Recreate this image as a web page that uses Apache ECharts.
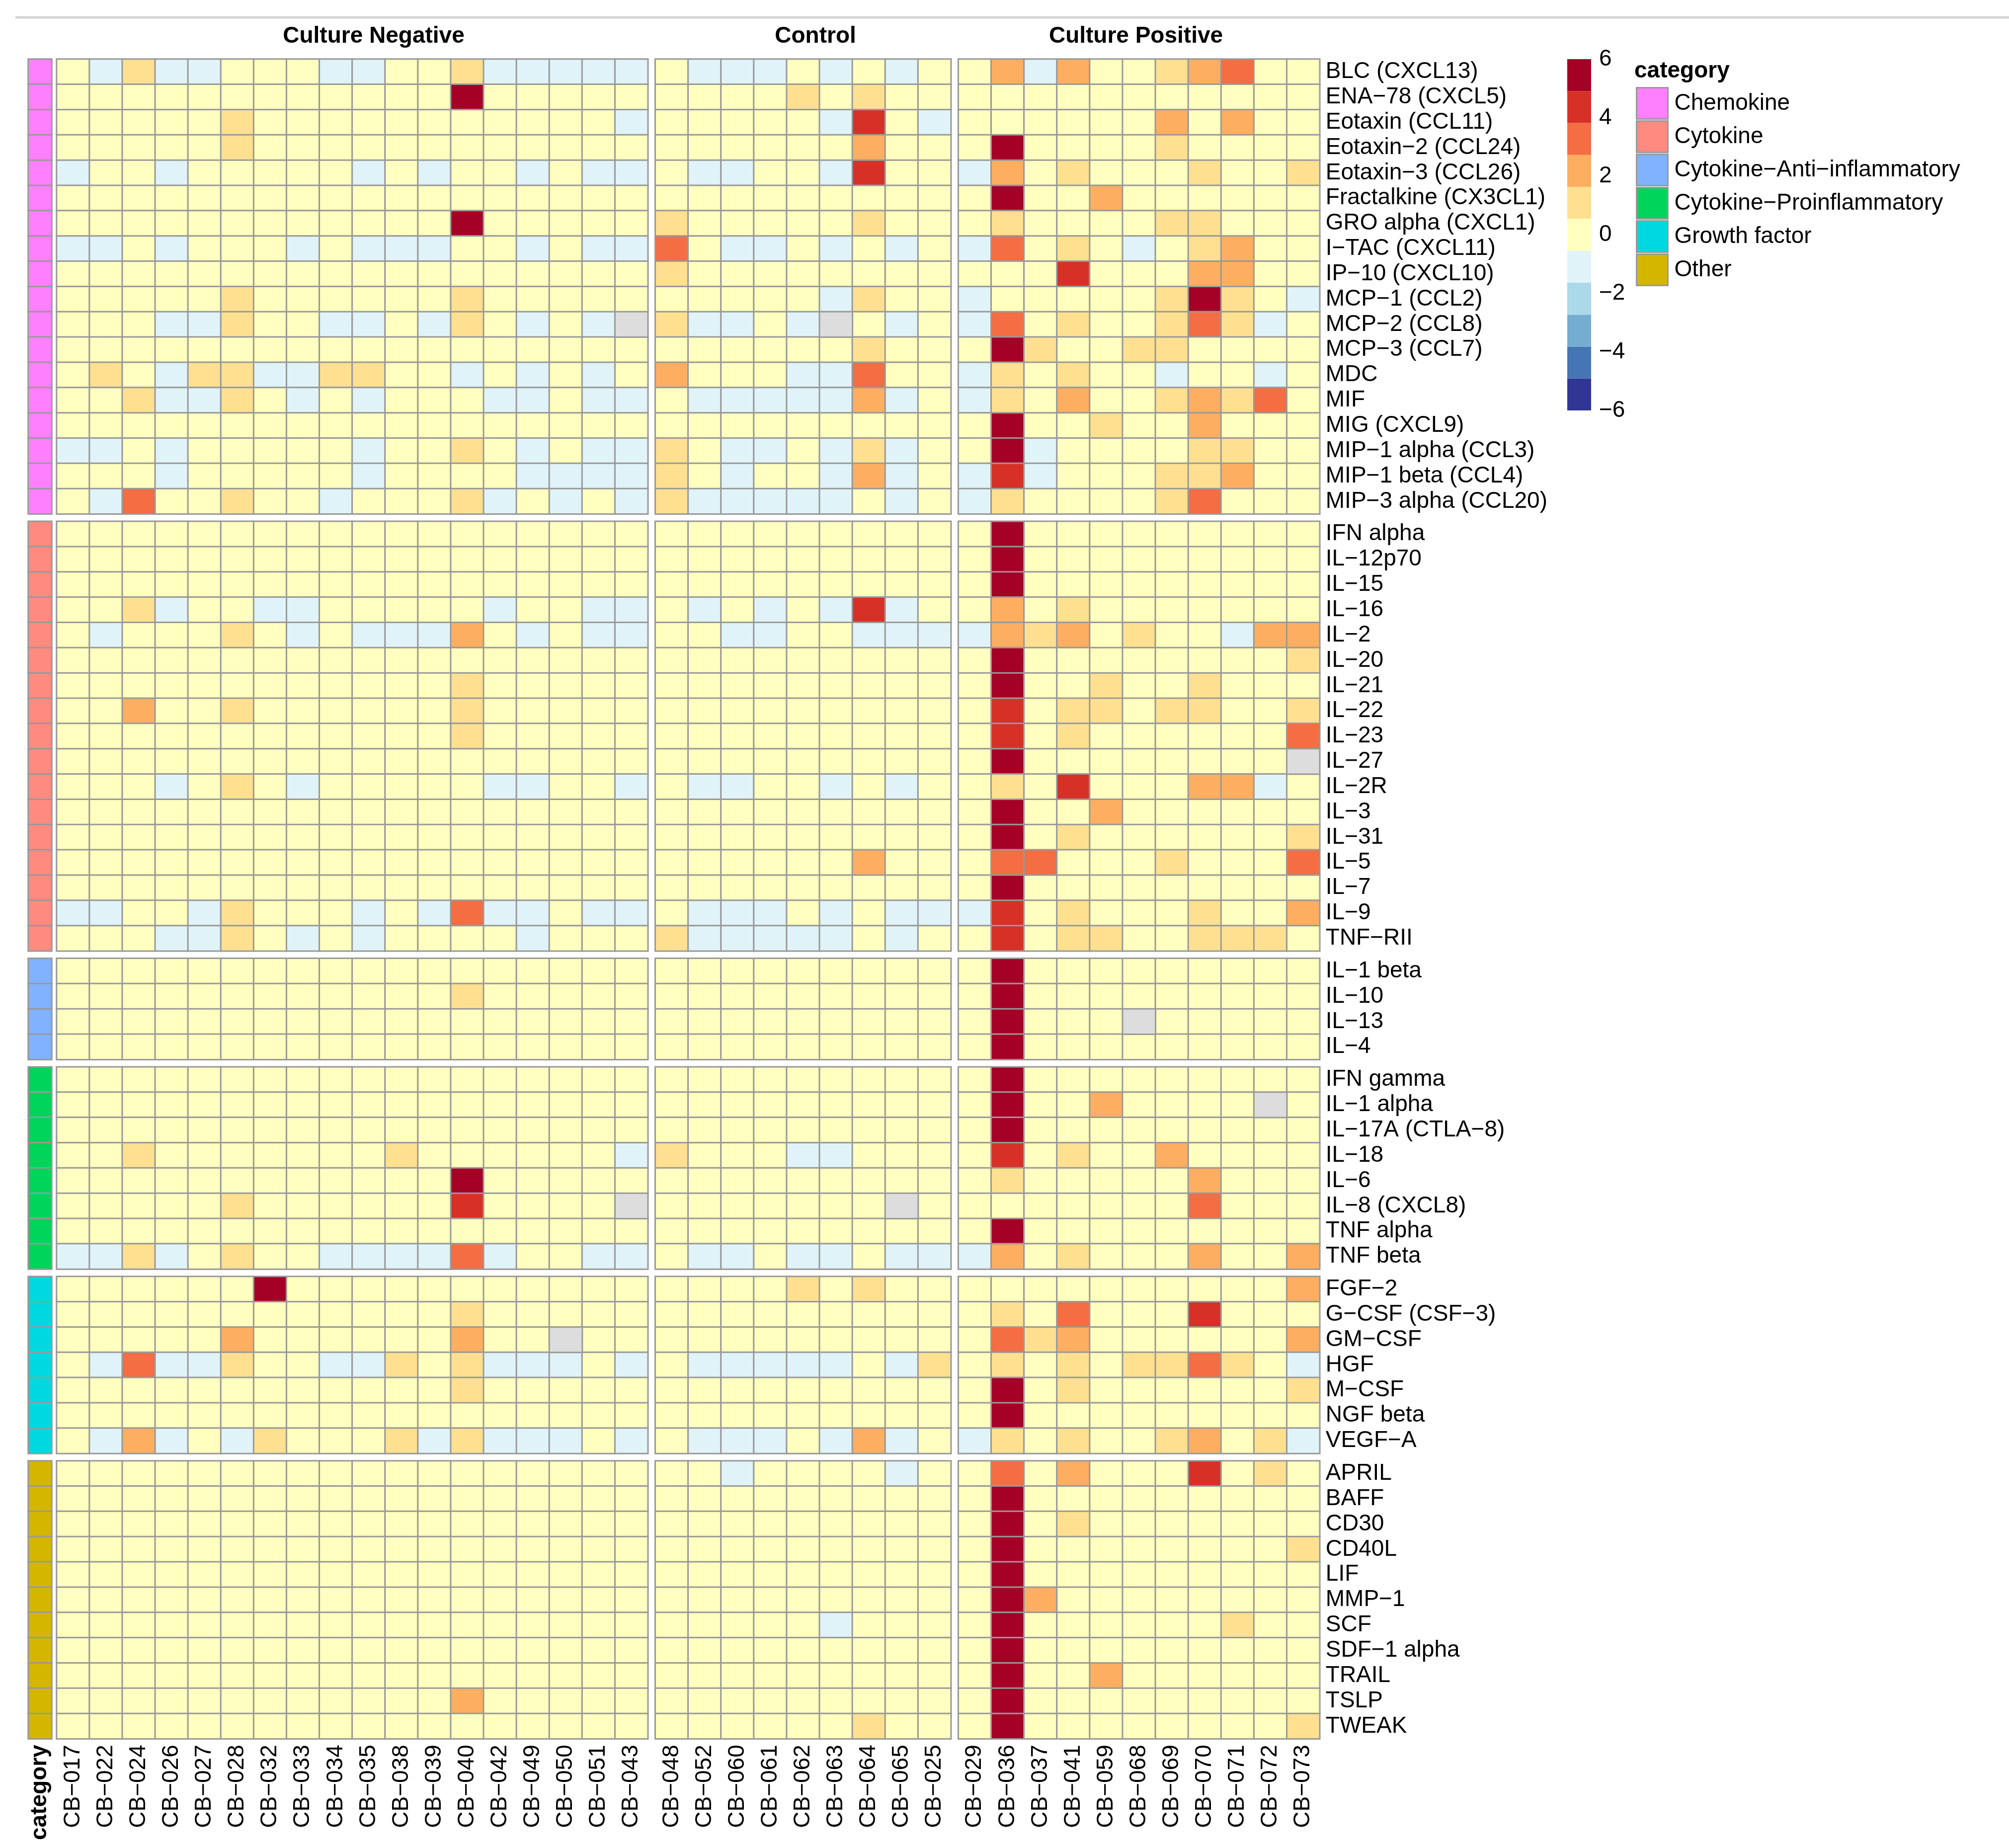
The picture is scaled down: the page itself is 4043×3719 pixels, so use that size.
<!DOCTYPE html>
<html>
<head>
<meta charset="utf-8">
<script src="https://cdn.jsdelivr.net/npm/echarts@6/dist/echarts.min.js"></script>
<style>
  html, body { margin: 0; padding: 0; background: #fff; }
  #chart { width: 4043px; height: 3719px; }
</style>
</head>
<body>
<div id="chart"></div>
<script>
// sample columns, one list per group
var cultureNegative = ['CB−017','CB−022','CB−024','CB−026','CB−027','CB−028','CB−032','CB−033','CB−034','CB−035','CB−038','CB−039','CB−040','CB−042','CB−049','CB−050','CB−051','CB−043'];
var control = ['CB−048','CB−052','CB−060','CB−061','CB−062','CB−063','CB−064','CB−065','CB−025'];
var culturePositive = ['CB−029','CB−036','CB−037','CB−041','CB−059','CB−068','CB−069','CB−070','CB−071','CB−072','CB−073'];
var groupTitles = ['Culture Negative', 'Control', 'Culture Positive'];

// analytes, one list per category
var categoryNames = ['Chemokine', 'Cytokine', 'Cytokine−Anti−inflammatory', 'Cytokine−Proinflammatory', 'Growth factor', 'Other'];
var chemokines = ['BLC (CXCL13)','ENA−78 (CXCL5)','Eotaxin (CCL11)','Eotaxin−2 (CCL24)','Eotaxin−3 (CCL26)','Fractalkine (CX3CL1)','GRO alpha (CXCL1)','I−TAC (CXCL11)','IP−10 (CXCL10)','MCP−1 (CCL2)','MCP−2 (CCL8)','MCP−3 (CCL7)','MDC','MIF','MIG (CXCL9)','MIP−1 alpha (CCL3)','MIP−1 beta (CCL4)','MIP−3 alpha (CCL20)'];
var cytokines = ['IFN alpha','IL−12p70','IL−15','IL−16','IL−2','IL−20','IL−21','IL−22','IL−23','IL−27','IL−2R','IL−3','IL−31','IL−5','IL−7','IL−9','TNF−RII'];
var antiInflammatory = ['IL−1 beta','IL−10','IL−13','IL−4'];
var proInflammatory = ['IFN gamma','IL−1 alpha','IL−17A (CTLA−8)','IL−18','IL−6','IL−8 (CXCL8)','TNF alpha','TNF beta'];
var growthFactors = ['FGF−2','G−CSF (CSF−3)','GM−CSF','HGF','M−CSF','NGF beta','VEGF−A'];
var others = ['APRIL','BAFF','CD30','CD40L','LIF','MMP−1','SCF','SDF−1 alpha','TRAIL','TSLP','TWEAK'];

// scaled values, columns: 18 negative | 9 control | 11 positive (null = not available)
var chemokineValues = [
  [0,-1,1,-1,-1,0,0,0,-1,-1,0,0,1,-1,-1,-1,-1,-1,  0,-1,-1,-1,0,-1,0,-1,0,  0,2,-1,2,0,0,1,2,3.2,0,0],
  [0,0,0,0,0,0,0,0,0,0,0,0,5.5,0,0,0,0,0,  0,0,0,0,1,0,1,0,0,  0,0,0,0,0,0,0,0,0,0,0],
  [0,0,0,0,0,1,0,0,0,0,0,0,0,0,0,0,0,-1,  0,0,0,0,0,-1,4.5,0,-1,  0,0,0,0,0,0,2,0,2,0,0],
  [0,0,0,0,0,1,0,0,0,0,0,0,0,0,0,0,0,0,  0,0,0,0,0,0,2,0,0,  0,5.5,0,0,0,0,1,0,0,0,0],
  [-1,0,0,-1,0,0,0,0,0,-1,0,-1,0,0,-1,0,-1,-1,  0,-1,-1,0,0,-1,4.5,0,0,  -1,2,0,1,0,0,0,1,0,0,1],
  [0,0,0,0,0,0,0,0,0,0,0,0,0,0,0,0,0,0,  0,0,0,0,0,0,0,0,0,  0,5.5,0,0,2,0,0,0,0,0,0],
  [0,0,0,0,0,0,0,0,0,0,0,0,5.5,0,0,0,0,0,  1,0,0,0,0,0,1,0,0,  0,1,0,0,0,0,1,1,0,0,0],
  [-1,-1,0,-1,0,0,0,-1,0,-1,-1,-1,0,0,-1,0,-1,-1,  3.2,0,-1,-1,0,-1,0,-1,0,  -1,3.2,0,1,0,-1,0,1,2,0,0],
  [0,0,0,0,0,0,0,0,0,0,0,0,0,0,0,0,0,0,  1,0,0,0,0,0,0,0,0,  0,0,0,4.5,0,0,0,2,2,0,0],
  [0,0,0,0,0,1,0,0,0,0,0,0,1,0,0,0,0,0,  0,0,0,0,0,-1,1,0,0,  -1,0,0,0,0,0,1,5.5,1,0,-1],
  [0,0,0,-1,-1,1,0,0,-1,-1,0,-1,1,0,-1,0,-1,null,  1,-1,-1,0,-1,null,0,-1,0,  -1,3.2,0,1,0,0,1,3.2,1,-1,0],
  [0,0,0,0,0,0,0,0,0,0,0,0,0,0,0,0,0,0,  0,0,0,0,0,0,1,0,0,  0,5.5,1,0,0,1,1,0,0,0,0],
  [0,1,0,-1,1,1,-1,-1,1,1,0,0,-1,0,-1,0,-1,0,  2,0,0,0,-1,-1,3.2,0,0,  -1,1,0,1,0,0,-1,0,0,-1,0],
  [0,0,1,-1,-1,1,0,-1,0,-1,0,0,0,-1,-1,0,-1,-1,  0,-1,-1,-1,-1,-1,2,-1,0,  -1,1,0,2,0,0,1,2,1,3.2,0],
  [0,0,0,0,0,0,0,0,0,0,0,0,0,0,0,0,0,0,  0,0,0,0,0,0,0,0,0,  0,5.5,0,0,1,0,0,2,0,0,0],
  [-1,-1,0,-1,0,0,0,0,0,-1,0,0,1,0,-1,0,-1,-1,  1,0,-1,-1,0,-1,1,-1,0,  0,5.5,-1,0,0,0,0,1,1,0,0],
  [0,0,0,-1,0,0,0,0,0,-1,0,0,0,0,-1,-1,-1,-1,  1,0,-1,0,0,-1,2,-1,0,  -1,4.5,-1,0,0,0,1,1,2,0,0],
  [0,-1,3.2,0,0,1,0,0,-1,0,0,0,1,-1,0,-1,0,-1,  1,-1,-1,-1,-1,-1,0,-1,0,  -1,1,0,0,0,0,1,3.2,0,0,0]
];
var cytokineValues = [
  [0,0,0,0,0,0,0,0,0,0,0,0,0,0,0,0,0,0,  0,0,0,0,0,0,0,0,0,  0,5.5,0,0,0,0,0,0,0,0,0],
  [0,0,0,0,0,0,0,0,0,0,0,0,0,0,0,0,0,0,  0,0,0,0,0,0,0,0,0,  0,5.5,0,0,0,0,0,0,0,0,0],
  [0,0,0,0,0,0,0,0,0,0,0,0,0,0,0,0,0,0,  0,0,0,0,0,0,0,0,0,  0,5.5,0,0,0,0,0,0,0,0,0],
  [0,0,1,-1,0,0,-1,-1,0,0,0,0,0,-1,0,0,-1,-1,  0,-1,0,-1,0,-1,4.5,-1,0,  0,2,0,1,0,0,0,0,0,0,0],
  [0,-1,0,0,0,1,0,-1,0,-1,-1,-1,2,0,-1,0,-1,-1,  0,0,-1,-1,0,0,-1,-1,-1,  -1,2,1,2,0,1,0,0,-1,2,2],
  [0,0,0,0,0,0,0,0,0,0,0,0,0,0,0,0,0,0,  0,0,0,0,0,0,0,0,0,  0,5.5,0,0,0,0,0,0,0,0,1],
  [0,0,0,0,0,0,0,0,0,0,0,0,1,0,0,0,0,0,  0,0,0,0,0,0,0,0,0,  0,5.5,0,0,1,0,0,1,0,0,0],
  [0,0,2,0,0,1,0,0,0,0,0,0,1,0,0,0,0,0,  0,0,0,0,0,0,0,0,0,  0,4.5,0,1,1,0,1,1,0,0,1],
  [0,0,0,0,0,0,0,0,0,0,0,0,1,0,0,0,0,0,  0,0,0,0,0,0,0,0,0,  0,4.5,0,1,0,0,0,0,0,0,3.2],
  [0,0,0,0,0,0,0,0,0,0,0,0,0,0,0,0,0,0,  0,0,0,0,0,0,0,0,0,  0,5.5,0,0,0,0,0,0,0,0,null],
  [0,0,0,-1,0,1,0,-1,0,0,0,0,0,-1,-1,0,0,-1,  0,-1,-1,0,0,-1,0,-1,0,  0,1,0,4.5,0,0,0,2,2,-1,0],
  [0,0,0,0,0,0,0,0,0,0,0,0,0,0,0,0,0,0,  0,0,0,0,0,0,0,0,0,  0,5.5,0,0,2,0,0,0,0,0,0],
  [0,0,0,0,0,0,0,0,0,0,0,0,0,0,0,0,0,0,  0,0,0,0,0,0,0,0,0,  0,5.5,0,1,0,0,0,0,0,0,1],
  [0,0,0,0,0,0,0,0,0,0,0,0,0,0,0,0,0,0,  0,0,0,0,0,0,2,0,0,  0,3.2,3.2,0,0,0,1,0,0,0,3.2],
  [0,0,0,0,0,0,0,0,0,0,0,0,0,0,0,0,0,0,  0,0,0,0,0,0,0,0,0,  0,5.5,0,0,0,0,0,0,0,0,0],
  [-1,-1,0,0,-1,1,0,0,0,-1,0,-1,3.2,-1,-1,0,-1,-1,  0,-1,-1,-1,0,-1,0,-1,-1,  -1,4.5,0,1,0,0,0,1,0,0,2],
  [0,0,0,-1,-1,1,0,-1,0,-1,0,0,0,0,-1,0,0,0,  1,-1,-1,-1,-1,-1,0,-1,0,  0,4.5,0,1,1,0,0,1,1,1,0]
];
var antiInflammatoryValues = [
  [0,0,0,0,0,0,0,0,0,0,0,0,0,0,0,0,0,0,  0,0,0,0,0,0,0,0,0,  0,5.5,0,0,0,0,0,0,0,0,0],
  [0,0,0,0,0,0,0,0,0,0,0,0,1,0,0,0,0,0,  0,0,0,0,0,0,0,0,0,  0,5.5,0,0,0,0,0,0,0,0,0],
  [0,0,0,0,0,0,0,0,0,0,0,0,0,0,0,0,0,0,  0,0,0,0,0,0,0,0,0,  0,5.5,0,0,0,null,0,0,0,0,0],
  [0,0,0,0,0,0,0,0,0,0,0,0,0,0,0,0,0,0,  0,0,0,0,0,0,0,0,0,  0,5.5,0,0,0,0,0,0,0,0,0]
];
var proInflammatoryValues = [
  [0,0,0,0,0,0,0,0,0,0,0,0,0,0,0,0,0,0,  0,0,0,0,0,0,0,0,0,  0,5.5,0,0,0,0,0,0,0,0,0],
  [0,0,0,0,0,0,0,0,0,0,0,0,0,0,0,0,0,0,  0,0,0,0,0,0,0,0,0,  0,5.5,0,0,2,0,0,0,0,null,0],
  [0,0,0,0,0,0,0,0,0,0,0,0,0,0,0,0,0,0,  0,0,0,0,0,0,0,0,0,  0,5.5,0,0,0,0,0,0,0,0,0],
  [0,0,1,0,0,0,0,0,0,0,1,0,0,0,0,0,0,-1,  1,0,0,0,-1,-1,0,0,0,  0,4.5,0,1,0,0,2,0,0,0,0],
  [0,0,0,0,0,0,0,0,0,0,0,0,5.5,0,0,0,0,0,  0,0,0,0,0,0,0,0,0,  0,1,0,0,0,0,0,2,0,0,0],
  [0,0,0,0,0,1,0,0,0,0,0,0,4.5,0,0,0,0,null,  0,0,0,0,0,0,0,null,0,  0,0,0,0,0,0,0,3.2,0,0,0],
  [0,0,0,0,0,0,0,0,0,0,0,0,0,0,0,0,0,0,  0,0,0,0,0,0,0,0,0,  0,5.5,0,0,0,0,0,0,0,0,0],
  [-1,-1,1,-1,0,1,0,0,-1,-1,-1,-1,3.2,-1,0,0,-1,-1,  0,-1,-1,0,-1,-1,0,-1,-1,  -1,2,0,1,0,0,0,2,0,0,2]
];
var growthFactorValues = [
  [0,0,0,0,0,0,5.5,0,0,0,0,0,0,0,0,0,0,0,  0,0,0,0,1,0,1,0,0,  0,0,0,0,0,0,0,0,0,0,2],
  [0,0,0,0,0,0,0,0,0,0,0,0,1,0,0,0,0,0,  0,0,0,0,0,0,0,0,0,  0,1,0,3.2,0,0,0,4.5,0,0,0],
  [0,0,0,0,0,2,0,0,0,0,0,0,2,0,0,null,0,0,  0,0,0,0,0,0,0,0,0,  0,3.2,1,2,0,0,0,0,0,0,2],
  [0,-1,3.2,-1,-1,1,0,0,-1,-1,1,0,1,-1,-1,-1,0,-1,  0,-1,-1,-1,-1,-1,0,-1,1,  0,1,0,1,0,1,1,3.2,1,0,-1],
  [0,0,0,0,0,0,0,0,0,0,0,0,1,0,0,0,0,0,  0,0,0,0,0,0,0,0,0,  0,5.5,0,1,0,0,0,0,0,0,1],
  [0,0,0,0,0,0,0,0,0,0,0,0,0,0,0,0,0,0,  0,0,0,0,0,0,0,0,0,  0,5.5,0,0,0,0,0,0,0,0,0],
  [0,-1,2,-1,0,-1,1,0,0,0,1,-1,1,-1,-1,-1,0,-1,  0,-1,-1,-1,0,-1,2,-1,0,  -1,1,0,1,0,0,1,2,0,1,-1]
];
var otherValues = [
  [0,0,0,0,0,0,0,0,0,0,0,0,0,0,0,0,0,0,  0,0,-1,0,0,0,0,-1,0,  0,3.2,0,2,0,0,0,4.5,0,1,0],
  [0,0,0,0,0,0,0,0,0,0,0,0,0,0,0,0,0,0,  0,0,0,0,0,0,0,0,0,  0,5.5,0,0,0,0,0,0,0,0,0],
  [0,0,0,0,0,0,0,0,0,0,0,0,0,0,0,0,0,0,  0,0,0,0,0,0,0,0,0,  0,5.5,0,1,0,0,0,0,0,0,0],
  [0,0,0,0,0,0,0,0,0,0,0,0,0,0,0,0,0,0,  0,0,0,0,0,0,0,0,0,  0,5.5,0,0,0,0,0,0,0,0,1],
  [0,0,0,0,0,0,0,0,0,0,0,0,0,0,0,0,0,0,  0,0,0,0,0,0,0,0,0,  0,5.5,0,0,0,0,0,0,0,0,0],
  [0,0,0,0,0,0,0,0,0,0,0,0,0,0,0,0,0,0,  0,0,0,0,0,0,0,0,0,  0,5.5,2,0,0,0,0,0,0,0,0],
  [0,0,0,0,0,0,0,0,0,0,0,0,0,0,0,0,0,0,  0,0,0,0,0,-1,0,0,0,  0,5.5,0,0,0,0,0,0,1,0,0],
  [0,0,0,0,0,0,0,0,0,0,0,0,0,0,0,0,0,0,  0,0,0,0,0,0,0,0,0,  0,5.5,0,0,0,0,0,0,0,0,0],
  [0,0,0,0,0,0,0,0,0,0,0,0,0,0,0,0,0,0,  0,0,0,0,0,0,0,0,0,  0,5.5,0,0,2,0,0,0,0,0,0],
  [0,0,0,0,0,0,0,0,0,0,0,0,2,0,0,0,0,0,  0,0,0,0,0,0,0,0,0,  0,5.5,0,0,0,0,0,0,0,0,0],
  [0,0,0,0,0,0,0,0,0,0,0,0,0,0,0,0,0,0,  0,0,0,0,0,0,1,0,0,  0,5.5,0,0,0,0,0,0,0,0,1]
];

// colour scale: 11 steps from -6 to 6
var colorSteps = ['#313695','#4575b4','#74add1','#abd9e9','#e0f3f8','#ffffbf','#fee090','#fdae61','#f46d43','#d73027','#a50026'];
var scaleTicks = [-6, 6, 2];  // min, max, interval
var categoryColors = ['#FF80FF', '#FF8A80', '#80B2FF', '#00D45A', '#00D8E0', '#D4B600'];

var FONT = 'Liberation Sans, Arial, sans-serif';
var CELL_W = 66.1, CELL_H = 50.85, GAP = 15;
var X0 = 114, Y0 = 119;
var STRIP_X = 57, STRIP_W = 47;

var sampleGroups = [cultureNegative, control, culturePositive];
var rowGroups = [chemokines, cytokines, antiInflammatory, proInflammatory, growthFactors, others];
var valueGroups = [chemokineValues, cytokineValues, antiInflammatoryValues, proInflammatoryValues, growthFactorValues, otherValues];

// block positions
var colLeft = [], colOffset = [], x = X0, off = 0;
sampleGroups.forEach(function (cols) {
  colLeft.push(x); colOffset.push(off);
  x += cols.length * CELL_W + GAP; off += cols.length;
});
var rowTop = [], y = Y0;
rowGroups.forEach(function (rows) {
  rowTop.push(y);
  y += rows.length * CELL_H + GAP;
});

var grids = [], xAxes = [], yAxes = [], series = [], mainIdx = [];
var cellBorder = { borderColor: '#999999', borderWidth: 3 };

rowGroups.forEach(function (rows, gi) {
  sampleGroups.forEach(function (cols, ci) {
    var idx = grids.length;
    grids.push({ left: colLeft[ci], top: rowTop[gi], width: cols.length * CELL_W, height: rows.length * CELL_H });
    xAxes.push({
      type: 'category', gridIndex: idx, data: cols,
      axisLine: { show: false }, axisTick: { show: false }, splitLine: { show: false },
      axisLabel: { show: gi === rowGroups.length - 1, interval: 0, rotate: 90, margin: 12, fontSize: 46, color: '#000', fontFamily: FONT }
    });
    yAxes.push({
      type: 'category', gridIndex: idx, data: rows, inverse: true, position: 'right',
      axisLine: { show: false }, axisTick: { show: false }, splitLine: { show: false },
      axisLabel: { show: ci === sampleGroups.length - 1, interval: 0, margin: 12, fontSize: 46, color: '#000', fontFamily: FONT }
    });
    var vals = [], na = [];
    valueGroups[gi].forEach(function (row, r) {
      for (var k = 0; k < cols.length; k++) {
        var v = row[colOffset[ci] + k];
        if (v === null) na.push([k, r, 0]); else vals.push([k, r, v]);
      }
    });
    mainIdx.push(series.length);
    series.push({
      type: 'heatmap', xAxisIndex: idx, yAxisIndex: idx, data: vals, silent: true,
      itemStyle: cellBorder, emphasis: { disabled: true }
    });
    series.push({
      type: 'heatmap', xAxisIndex: idx, yAxisIndex: idx, data: na, silent: true,
      itemStyle: { color: '#DDDDDD', borderColor: '#999999', borderWidth: 3 }, emphasis: { disabled: true }
    });
  });
});

// category annotation strip
rowGroups.forEach(function (rows, gi) {
  var idx = grids.length;
  var last = gi === rowGroups.length - 1;
  grids.push({ left: STRIP_X, top: rowTop[gi], width: STRIP_W, height: rows.length * CELL_H });
  xAxes.push({
    type: 'category', gridIndex: idx, data: ['category'],
    axisLine: { show: false }, axisTick: { show: false }, splitLine: { show: false },
    axisLabel: { show: last, rotate: 90, margin: 12, fontSize: 46, fontWeight: 'bold', color: '#000', fontFamily: FONT }
  });
  yAxes.push({
    type: 'category', gridIndex: idx, data: rows, inverse: true,
    axisLine: { show: false }, axisTick: { show: false }, splitLine: { show: false }, axisLabel: { show: false }
  });
  series.push({
    type: 'heatmap', name: categoryNames[gi], xAxisIndex: idx, yAxisIndex: idx, silent: true,
    data: rows.map(function (_, r) { return [0, r, 1]; }),
    itemStyle: { color: categoryColors[gi], borderColor: '#999999', borderWidth: 3 },
    emphasis: { disabled: true }
  });
});

// colour key on its own value axis
var step = (scaleTicks[1] - scaleTicks[0]) / colorSteps.length;
var keyBins = colorSteps.map(function (c, i) { return [scaleTicks[0] + i * step, scaleTicks[0] + (i + 1) * step]; });
var keyIdx = grids.length;
grids.push({ left: 3154, top: 119, width: 48, height: 707 });
xAxes.push({ type: 'value', gridIndex: keyIdx, min: 0, max: 1, show: false });
yAxes.push({
  type: 'value', gridIndex: keyIdx, min: scaleTicks[0], max: scaleTicks[1], interval: scaleTicks[2], position: 'right',
  axisLine: { show: false }, axisTick: { show: false }, splitLine: { show: false },
  axisLabel: {
    margin: 16, fontSize: 46, color: '#000', fontFamily: FONT,
    formatter: function (v) { return String(v).replace('-', '\u2212'); }
  }
});
series.push({
  type: 'custom', xAxisIndex: keyIdx, yAxisIndex: keyIdx, silent: true, data: keyBins,
  renderItem: function (params, api) {
    var p0 = api.coord([0, api.value(0)]);
    var p1 = api.coord([1, api.value(1)]);
    return {
      type: 'rect',
      shape: { x: p0[0], y: p1[1], width: p1[0] - p0[0], height: p0[1] - p1[1] },
      style: { fill: colorSteps[params.dataIndex] }
    };
  }
});

var option = {
  animation: false,
  backgroundColor: '#ffffff',
  grid: grids,
  xAxis: xAxes,
  yAxis: yAxes,
  visualMap: {
    type: 'piecewise', show: false, seriesIndex: mainIdx,
    pieces: keyBins.map(function (b, i) {
      return i === keyBins.length - 1 ? { gte: b[0], lte: b[1], color: colorSteps[i] } : { gte: b[0], lt: b[1], color: colorSteps[i] };
    })
  },
  legend: {
    data: categoryNames, orient: 'vertical', left: 3287, top: 170,
    icon: 'rect', itemWidth: 63, itemHeight: 63, itemGap: 1, selectedMode: false,
    itemStyle: { borderColor: '#999999', borderWidth: 3 },
    textStyle: { fontSize: 46, color: '#000', fontFamily: FONT, padding: [0, 0, 0, 8] }
  },
  graphic: [
    { type: 'line', shape: { x1: 31, y1: 35, x2: 4043, y2: 35 }, style: { stroke: '#d4d4d4', lineWidth: 5 } },
    { type: 'text', x: 752, y: 73, style: { text: groupTitles[0], font: 'bold 46px ' + FONT, fill: '#000', align: 'center', verticalAlign: 'middle' } },
    { type: 'text', x: 1641, y: 73, style: { text: groupTitles[1], font: 'bold 46px ' + FONT, fill: '#000', align: 'center', verticalAlign: 'middle' } },
    { type: 'text', x: 2286, y: 73, style: { text: groupTitles[2], font: 'bold 46px ' + FONT, fill: '#000', align: 'center', verticalAlign: 'middle' } },
    { type: 'text', x: 3289, y: 143, style: { text: 'category', font: 'bold 46px ' + FONT, fill: '#000', align: 'left', verticalAlign: 'middle' } }
  ],
  series: series
};

var chart = echarts.init(document.getElementById('chart'), null, { renderer: 'canvas' });
chart.setOption(option);
</script>
</body>
</html>
